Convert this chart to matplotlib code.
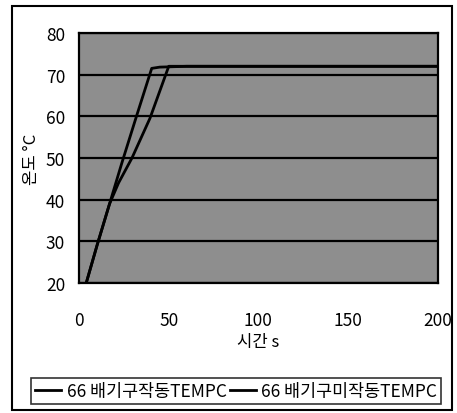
import matplotlib.pyplot as plt
from matplotlib.patches import Rectangle

plt.rcParams['font.family'] = ['Noto Sans CJK KR', 'DejaVu Sans']

# 66 exhaust operating / not operating, temperature vs time
t_on = [4, 10, 17, 24, 32, 40.5, 45, 60, 80, 100, 120, 150, 175, 200]
temp_on = [20, 29, 39, 49, 60, 71.5, 71.8, 72, 72, 72, 72, 72, 72, 72]
t_off = [4, 10, 17, 22, 29.5, 39.5, 50, 60, 80, 100, 150, 200]
temp_off = [20, 29, 39, 44, 50, 59.5, 72, 72, 72, 72, 72, 72]
labels = ['66 배기구작동TEMPC', '66 배기구미작동TEMPC']
yticks = [20, 30, 40, 50, 60, 70, 80]
xticks = [0, 50, 100, 150, 200]

fig = plt.figure(figsize=(4.57, 4.14), dpi=100)
ax = fig.add_axes([0.173, 0.314, 0.785, 0.604])
ax.set_facecolor('#8e8e8e')

l1, = ax.plot(t_on, temp_on, color='black', lw=2)
l2, = ax.plot(t_off, temp_off, color='black', lw=2)

ax.set_xlim(0, 200)
ax.set_ylim(20, 80)
ax.set_xticks(xticks)
ax.set_yticks(yticks)
ax.tick_params(length=0, labelsize=12.5, pad=10)
ax.tick_params(axis='x', pad=20)
for lab in ax.get_xticklabels() + ax.get_yticklabels():
    lab.set_fontweight('medium')
ax.grid(axis='y', color='black', lw=1.6)
ax.set_axisbelow(True)
for s in ax.spines.values():
    s.set_color('black')
    s.set_linewidth(1.6)

ax.set_xlabel('시간 s', fontsize=12, fontweight='medium', labelpad=3)
ax.set_ylabel('온도 °C', fontsize=12, fontweight='medium', labelpad=4)

# outer border of the chart
fig.patches.append(Rectangle((12 / 457, 3 / 414), 440 / 457, 404 / 414,
                             transform=fig.transFigure, fill=False,
                             edgecolor='black', lw=1.5))

leg = fig.legend([l1, l2], labels, loc='center', bbox_to_anchor=(0.517, 0.053),
                 ncol=2, fontsize=12.5, frameon=True, fancybox=False,
                 handlelength=1.5, handletextpad=0.3, columnspacing=0.2,
                 borderpad=0.25)
leg.get_frame().set_edgecolor('black')
leg.get_frame().set_linewidth(1.2)
for txt in leg.get_texts():
    txt.set_fontweight('medium')

fig.savefig('out.png', dpi=100)
